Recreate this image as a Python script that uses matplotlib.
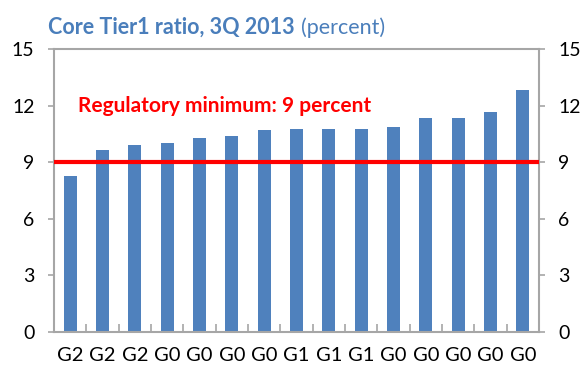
import matplotlib
matplotlib.use("Agg")
import matplotlib.pyplot as plt
import numpy as np

# Core Tier 1 ratios by bank group, 3Q 2013
groups = ["G2", "G2", "G2", "G0", "G0", "G0", "G0", "G1", "G1", "G1",
          "G0", "G0", "G0", "G0", "G0"]
ratios = [8.28, 9.62, 9.92, 10.02, 10.3, 10.4, 10.69, 10.78, 10.78, 10.78,
          10.88, 11.35, 11.35, 11.65, 12.8]
reg_minimum = 9
y_ticks = [0, 3, 6, 9, 12, 15]

plt.rcParams['font.family'] = ['Lato', 'DejaVu Sans']

bar_color = "#4F81BD"
axis_gray = "#A6A6A6"
title_blue = "#4A7EBB"

fig = plt.figure(figsize=(5.83, 3.72), dpi=100)
ax = fig.add_axes([0.0926, 0.1075, 0.832, 0.761])

x = np.arange(len(ratios))
ax.bar(x, ratios, width=0.4, color=bar_color, zorder=2)
ax.axhline(reg_minimum, color="#FF0000", lw=3, zorder=3)
ax.text(0.25, 12, "Regulatory minimum: 9 percent", color="#FF0000",
        fontsize=15, fontweight="bold", va="center", ha="left", zorder=4)

ax.set_xlim(-0.5, len(ratios) - 0.5)
ax.set_ylim(0, 15)
ax.set_yticks(y_ticks)
ax.set_xticks(x)
ax.set_xticklabels(groups, fontsize=14.5)
ax.set_xticks(np.arange(-0.5, len(ratios)), minor=True)
ax.tick_params(axis="x", which="major", length=0, pad=11)
ax.tick_params(axis="x", which="minor", direction="in", length=6,
               color=axis_gray, width=1.2)
ax.tick_params(axis="y", direction="out", length=4, color=axis_gray,
               width=1.2, labelsize=14, left=True, right=True,
               labelleft=True, labelright=True, pad=10)
for side in ["left", "right", "top", "bottom"]:
    ax.spines[side].set_color(axis_gray)
    ax.spines[side].set_linewidth(1.5)

# Two-part title: bold heading plus light unit note
fig.canvas.draw()
renderer = fig.canvas.get_renderer()
t1 = fig.text(48 / 583, 1 - 34 / 372, "Core Tier1 ratio, 3Q 2013",
              color=title_blue, fontsize=15.5, fontweight="bold",
              ha="left", va="baseline")
bb = t1.get_window_extent(renderer=renderer)
fig.text((bb.x1 + 6) / fig.bbox.width, 1 - 34 / 372, "(percent)",
         color=title_blue, fontsize=15.5, ha="left", va="baseline")

fig.savefig("out.png", dpi=100)
